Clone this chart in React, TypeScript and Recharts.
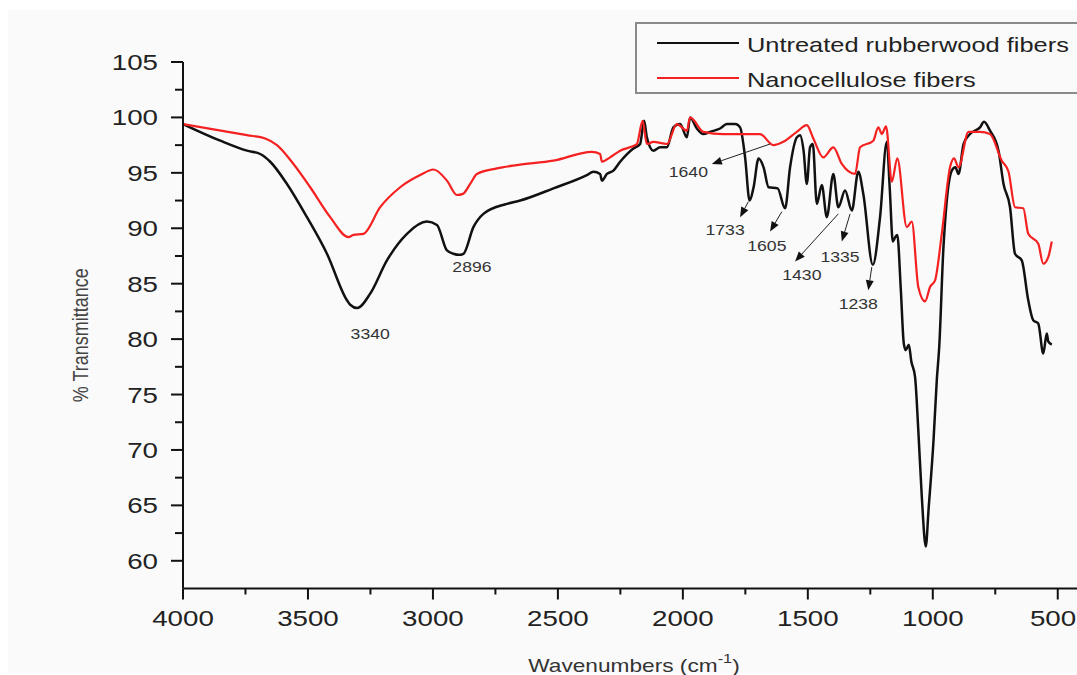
import React from "react";
import {
  LineChart,
  Line,
  XAxis,
  YAxis,
  Legend,
  Label,
  ReferenceLine,
  ReferenceDot,
} from "recharts";

const seriesNames = ["Untreated rubberwood fibers", "Nanocellulose fibers"];

// untreated rubberwood fibers (black)
const untreatedWavenumber = [
  4000, 3851, 3744, 3691, 3651, 3584, 3504, 3424, 3344, 3331, 3303, 3251, 3184,
  3104, 3024, 2984, 2944, 2918, 2896, 2878, 2838, 2798, 2704, 2651, 2518, 2384,
  2358, 2331, 2324, 2304, 2278, 2251, 2198, 2171, 2155, 2144, 2118, 2091, 2064,
  2038, 2011, 1984, 1971, 1944, 1918, 1891, 1851, 1824, 1790, 1771, 1751, 1733,
  1717, 1697, 1677, 1657, 1621, 1591, 1571, 1544, 1531, 1517, 1504, 1491, 1480,
  1464, 1444, 1424, 1398, 1378, 1351, 1324, 1298, 1278, 1240, 1211, 1184, 1172,
  1160, 1150, 1142, 1128, 1116, 1108, 1096, 1086, 1071, 1058, 1044, 1028, 1017,
  997, 984, 974, 958, 944, 924, 910, 897, 877, 851, 811, 795, 771, 737, 717,
  691, 671, 644, 618, 598, 578, 558, 544, 538, 524,
];
const untreatedTransmittance = [
  99.4, 97.9, 97.0, 96.7, 96.0, 94.0, 91.0, 87.7, 83.5, 83.1, 82.8, 84.1, 87.1,
  89.5, 90.6, 90.3, 88.0, 87.7, 87.6, 87.7, 90.1, 91.3, 92.2, 92.5, 93.6, 94.8,
  95.1, 94.9, 94.3, 94.9, 95.2, 96.0, 97.2, 97.6, 99.7, 98.2, 97.0, 97.3, 97.3,
  99.1, 99.4, 98.2, 100.0, 99.0, 98.5, 98.7, 99.0, 99.4, 99.4, 99.1, 96.4, 92.5,
  93.7, 96.3, 95.5, 93.7, 93.6, 91.8, 95.5, 98.2, 98.4, 97.0, 94.0, 97.3, 97.6,
  92.2, 93.9, 91.0, 94.9, 91.9, 93.4, 91.6, 95.1, 93.1, 86.7, 91.0, 97.8, 93.5,
  88.8, 89.2, 89.4, 84.5, 79.6, 79.0, 79.5, 78.0, 76.6, 71.8, 65.8, 61.3, 64.6,
  70.9, 76.3, 79.4, 88.0, 92.5, 95.2, 95.5, 94.9, 97.6, 98.5, 99.1, 99.6, 98.8,
  97.0, 94.0, 91.9, 87.7, 87.1, 83.5, 81.7, 81.4, 78.7, 80.5, 79.8, 79.5,
];

// nanocellulose fibers (red)
const nanoWavenumber = [
  4000, 3744, 3671, 3624, 3558, 3491, 3411, 3338, 3318, 3278, 3211, 3131, 3051,
  2998, 2944, 2904, 2880, 2851, 2824, 2744, 2664, 2518, 2364, 2331, 2324, 2291,
  2251, 2184, 2161, 2144, 2118, 2064, 2024, 1984, 1971, 1918, 1838, 1691, 1638,
  1598, 1544, 1504, 1478, 1438, 1398, 1364, 1311, 1291, 1238, 1218, 1204, 1187,
  1164, 1142, 1104, 1084, 1058, 1031, 1011, 991, 964, 931, 915, 897, 857, 811,
  771, 724, 697, 671, 638, 618, 578, 558, 538, 524,
];
const nanoTransmittance = [
  99.4, 98.4, 98.1, 97.5, 95.8, 93.7, 91.0, 89.2, 89.4, 89.5, 91.9, 93.7, 94.8,
  95.3, 94.3, 93.0, 93.1, 94.0, 94.9, 95.4, 95.7, 96.1, 96.9, 96.7, 96.0, 96.4,
  97.0, 97.6, 99.7, 97.6, 97.8, 97.6, 99.4, 98.8, 100.0, 98.7, 98.5, 98.5, 97.5,
  97.8, 98.7, 99.3, 98.1, 96.4, 97.3, 95.8, 94.9, 97.3, 97.9, 99.1, 98.5, 99.2,
  94.2, 96.3, 90.1, 90.6, 84.7, 83.4, 84.7, 85.3, 89.5, 95.5, 96.3, 95.5, 98.7,
  98.7, 98.5, 96.1, 95.1, 91.9, 91.8, 89.5, 88.6, 86.8, 87.4, 88.8,
];

const xTicks = [
  4000, 3750, 3500, 3250, 3000, 2750, 2500, 2250, 2000, 1750, 1500, 1250, 1000,
  750, 500,
];
const yTicks = [
  60, 62.5, 65, 67.5, 70, 72.5, 75, 77.5, 80, 82.5, 85, 87.5, 90, 92.5, 95,
  97.5, 100, 102.5, 105,
];

// peak labels: text, label position, arrow start, arrow tip (wavenumber, %T)
const peakNames = ["3340", "2896", "1640", "1733", "1605", "1430", "1335", "1238"];
const peakLabelW = [3251, 2844, 1978, 1831, 1664, 1524, 1371, 1298];
const peakLabelT = [80.5, 86.5, 95.1, 89.8, 88.4, 85.8, 87.4, 83.2];
const arrowFromW = [null, null, 1651, 1738, 1604, 1378, 1331, 1244];
const arrowFromT = [null, null, 97.6, 92.4, 91.5, 91.3, 91.3, 86.5];
const arrowToW = [null, null, 1884, 1771, 1651, 1551, 1364, 1258];
const arrowToT = [null, null, 95.8, 91.0, 89.7, 87.0, 88.8, 84.4];

const untreated = untreatedWavenumber.map((w, i) => ({ w, t: untreatedTransmittance[i] }));
const nano = nanoWavenumber.map((w, i) => ({ w, t: nanoTransmittance[i] }));

const SX = 1.26;
const FONT = "Liberation Sans, Arial, sans-serif";

const YTick = (props: any) => {
  const { x, y, payload } = props;
  const major = payload.value % 5 === 0;
  return (
    <g>
      <line x1={x - (major ? 12 : 8)} x2={x} y1={y} y2={y} stroke="#111" strokeWidth={2} />
      {major && (
        <text
          transform={`translate(${x - 25},${y + 8}) scale(${SX},1)`}
          textAnchor="end"
          fontSize={22}
          fontFamily={FONT}
          fill="#222"
        >
          {payload.value}
        </text>
      )}
    </g>
  );
};

const XTick = (props: any) => {
  const { x, y, payload } = props;
  const major = payload.value % 500 === 0;
  // keep the last label inside the picture
  const tx = Math.min(x, 1053);
  return (
    <g>
      <line x1={x} x2={x} y1={y} y2={y + (major ? 11 : 6)} stroke="#111" strokeWidth={2} />
      {major && (
        <text
          transform={`translate(${tx},${y + 37}) scale(${SX},1)`}
          textAnchor="middle"
          fontSize={22}
          fontFamily={FONT}
          fill="#222"
        >
          {payload.value}
        </text>
      )}
    </g>
  );
};

const Arrow = (p: any) => {
  const { x1, y1, x2, y2 } = p;
  const a = Math.atan2(y2 - y1, x2 - x1);
  const len = 10;
  const half = 4;
  const bx = x2 - len * Math.cos(a);
  const by = y2 - len * Math.sin(a);
  const px = -Math.sin(a) * half;
  const py = Math.cos(a) * half;
  return (
    <g>
      <line x1={x1} y1={y1} x2={bx} y2={by} stroke="#222" strokeWidth={1} />
      <polygon
        points={`${x2},${y2} ${bx + px},${by + py} ${bx - px},${by - py}`}
        fill="#111"
      />
    </g>
  );
};

const renderLegend = (props: any) => {
  const items = [...(props.payload || [])].sort(
    (a: any, b: any) => seriesNames.indexOf(a.value) - seriesNames.indexOf(b.value)
  );
  return (
    <div
      style={{
        border: "2px solid #8a8a8a",
        borderRight: "none",
        height: 68,
        background: "#fafafa",
      }}
    >
      <svg width={480} height={68} style={{ display: "block" }}>
        {items.map((item: any, i: number) => {
          const cy = 19 + i * 35;
          return (
            <g key={item.value}>
              <line x1={20} x2={102} y1={cy} y2={cy} stroke={item.color} strokeWidth={2} />
              <text
                transform={`translate(110,${cy + 9}) scale(1.21,1)`}
                fontSize={21}
                fontFamily={FONT}
                fill="#222"
              >
                {item.value}
              </text>
            </g>
          );
        })}
      </svg>
    </div>
  );
};

export default function App() {
  return (
    <div
      style={{
        position: "absolute",
        left: 0,
        top: 0,
        width: 1077,
        height: 675,
        overflow: "hidden",
        background: "#fff",
      }}
    >
      <div
        style={{
          position: "absolute",
          left: 8,
          top: 10,
          right: 0,
          bottom: 2,
          background: "#fafafa",
        }}
      />
      <LineChart
        width={1077}
        height={675}
        margin={{ top: 62, right: 0, bottom: 0, left: 0 }}
        style={{ position: "absolute", left: 0, top: 0 }}
      >
        <XAxis
          type="number"
          dataKey="w"
          domain={[423, 4000]}
          reversed
          allowDataOverflow
          ticks={xTicks}
          interval={0}
          height={86.5}
          tickSize={0}
          tickMargin={0}
          tickLine={false}
          axisLine={{ stroke: "#111", strokeWidth: 2 }}
          tick={<XTick />}
        >
          <Label
            content={(p: any) => {
              const vb = p.viewBox;
              const cx = vb.x + vb.width / 2 + 4;
              return (
                <text
                  transform={`translate(${cx},${vb.y + 83}) scale(${SX},1)`}
                  textAnchor="middle"
                  fontSize={18}
                  fontFamily={FONT}
                  fill="#333"
                >
                  Wavenumbers (cm
                  <tspan fontSize={13} dy={-9}>-1</tspan>
                  <tspan dy={9}>)</tspan>
                </text>
              );
            }}
          />
        </XAxis>
        <YAxis
          type="number"
          domain={[57.5, 105]}
          ticks={yTicks}
          interval={0}
          width={183}
          tickSize={0}
          tickMargin={0}
          tickLine={false}
          axisLine={{ stroke: "#111", strokeWidth: 2 }}
          tick={<YTick />}
        >
          <Label
            content={(p: any) => {
              const vb = p.viewBox;
              return (
                <text
                  transform={`translate(88,${vb.y + vb.height / 2 + 10}) scale(${SX},1) rotate(-90)`}
                  textAnchor="middle"
                  fontSize={18}
                  fontFamily={FONT}
                  fill="#444"
                >
                  % Transmittance
                </text>
              );
            }}
          />
        </YAxis>
        <Legend
          layout="horizontal"
          verticalAlign="middle"
          align="center"
          content={renderLegend}
          wrapperStyle={{ left: 635, top: 22, width: 480, height: 72 }}
        />
        <Line
          name={seriesNames[0]}
          data={untreated}
          dataKey="t"
          type="monotone"
          stroke="#111"
          strokeWidth={2.5}
          dot={false}
          activeDot={false}
          isAnimationActive={false}
        />
        <Line
          name={seriesNames[1]}
          data={nano}
          dataKey="t"
          type="monotone"
          stroke="#f52020"
          strokeWidth={2.2}
          dot={false}
          activeDot={false}
          isAnimationActive={false}
        />
        {peakNames.map((name, i) =>
          arrowFromW[i] !== null ? (
            <ReferenceLine
              key={"a" + name}
              segment={[
                { x: arrowFromW[i], y: arrowFromT[i] },
                { x: arrowToW[i], y: arrowToT[i] },
              ]}
              shape={Arrow}
            />
          ) : null
        )}
        {peakNames.map((name, i) => (
          <ReferenceDot
            key={"l" + name}
            x={peakLabelW[i]}
            y={peakLabelT[i]}
            r={1}
            shape={(p: any) => (
              <text
                transform={`translate(${p.cx},${p.cy + 5}) scale(${SX},1)`}
                textAnchor="middle"
                fontSize={14}
                fontFamily={FONT}
                fill="#333"
              >
                {name}
              </text>
            )}
          />
        ))}
      </LineChart>
    </div>
  );
}
